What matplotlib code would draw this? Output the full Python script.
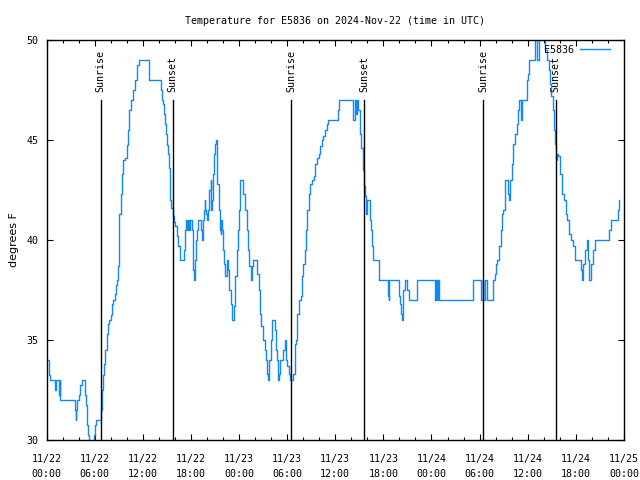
import matplotlib

matplotlib.use("Agg")

import matplotlib.pyplot as plt
from matplotlib.ticker import MultipleLocator

# hours since 2024-11-22 00:00 UTC, temperature in degrees F
hours = [
    0.19, 0.31, 0.35, 0.44, 1.06, 1.10, 1.18, 1.47, 1.56, 1.64, 1.68, 3.47, 3.55, 3.64, 3.72,
    3.80, 4.05, 4.18, 4.39, 4.68, 4.76, 4.88, 5.01, 5.13, 5.26, 5.92, 6.05, 6.17, 6.67, 6.76,
    6.88, 7.00, 7.17, 7.33, 7.50, 7.67, 7.83, 8.00, 8.17, 8.33, 8.50, 8.66, 8.83, 8.91, 9.00,
    9.08, 9.25, 9.41, 9.58, 9.83, 10.00, 10.16, 10.33, 10.50, 10.74, 10.99, 11.24, 11.33, 11.49, 12.74,
    12.82, 14.15, 14.23, 14.40, 14.57, 14.65, 14.82, 14.90, 15.07, 15.15, 15.32, 15.40, 15.56, 15.73, 15.90,
    16.06, 16.23, 16.40, 16.65, 17.14, 17.19, 17.27, 17.39, 17.56, 17.68, 17.81, 17.89, 18.10, 18.22, 18.31,
    18.43, 18.52, 18.64, 18.72, 18.93, 19.14, 19.26, 19.39, 19.47, 19.56, 19.64, 19.72, 19.81, 19.89, 20.05,
    20.18, 20.31, 20.47, 20.56, 20.68, 20.80, 20.93, 21.05, 21.14, 21.22, 21.30, 21.47, 21.63, 21.71, 21.80,
    21.88, 21.97, 22.13, 22.30, 22.46, 22.67, 22.80, 22.96, 23.13, 23.38, 23.50, 23.71, 23.92, 24.04, 24.13,
    24.38, 24.54, 24.75, 24.96, 25.12, 25.29, 25.46, 25.62, 25.79, 26.04, 26.29, 26.45, 26.62, 26.79, 26.95,
    27.20, 27.37, 27.54, 27.66, 27.79, 27.95, 28.12, 28.37, 28.45, 28.62, 28.70, 28.87, 28.95, 29.12, 29.37,
    29.53, 29.70, 29.87, 30.03, 30.20, 30.37, 30.61, 30.78, 30.95, 31.03, 31.12, 31.28, 31.45, 31.70, 31.86,
    32.03, 32.20, 32.36, 32.53, 32.70, 32.86, 33.11, 33.36, 33.53, 33.69, 33.94, 34.11, 34.36, 34.53, 34.78,
    34.94, 35.11, 36.27, 36.39, 36.51, 38.05, 38.17, 38.43, 38.51, 38.63, 38.76, 38.88, 39.09, 39.26, 39.42,
    39.55, 39.71, 39.79, 39.92, 40.17, 40.34, 40.46, 40.59, 40.75, 41.25, 41.50, 42.50, 42.58, 42.66, 42.75,
    43.75, 43.91, 44.08, 44.16, 44.33, 44.41, 44.50, 44.66, 44.91, 45.16, 46.07, 46.24, 48.24, 48.41, 48.57,
    48.74, 48.82, 48.99, 53.01, 53.13, 53.97, 54.13, 54.38, 54.47, 54.72, 54.88, 55.51, 55.63, 55.71, 55.88,
    56.05, 56.21, 56.38, 56.63, 56.80, 56.96, 57.13, 57.38, 57.54, 57.71, 57.79, 58.04, 58.21, 58.46, 58.62,
    58.79, 58.96, 59.12, 59.29, 59.71, 59.87, 60.04, 60.21, 60.79, 60.87, 60.95, 61.12, 61.29, 61.45, 61.70,
    62.03, 62.20, 62.45, 62.61, 62.78, 62.95, 63.11, 63.28, 63.40, 63.53, 63.61, 63.77, 64.02, 64.27, 64.52,
    64.77, 64.94, 65.19, 65.44, 65.69, 65.86, 66.52, 66.60, 66.73, 66.94, 67.10, 67.35, 67.52, 67.69, 67.94,
    68.10, 68.35, 70.02, 70.18, 70.43, 71.10, 71.26, 71.43,
]
temps = [
    34.0, 33.75, 33.25, 33.0, 33.0, 32.5, 33.0, 33.0, 32.25, 33.0, 32.0, 32.0, 31.5, 31.0, 31.5,
    32.0, 32.25, 32.75, 33.0, 33.0, 32.25, 31.75, 30.75, 30.25, 29.5, 30.25, 30.75, 31.0, 31.0, 31.5,
    32.5, 33.25, 33.8, 34.5, 35.3, 35.8, 36.0, 36.25, 36.8, 37.0, 37.3, 37.75, 38.0, 38.7, 40.0,
    41.3, 42.3, 43.3, 44.0, 44.1, 44.75, 45.5, 46.5, 47.0, 47.5, 48.0, 48.3, 48.75, 49.0, 49.0,
    48.0, 48.0, 47.5, 47.0, 46.8, 46.3, 45.8, 45.3, 44.75, 44.3, 43.6, 42.0, 41.6, 41.2, 40.9,
    40.7, 40.2, 39.7, 39.0, 39.0, 39.5, 40.5, 41.0, 40.5, 41.0, 40.5, 41.0, 40.5, 39.7, 38.5,
    38.0, 39.0, 40.0, 40.5, 41.0, 41.0, 40.5, 40.0, 40.5, 41.0, 41.5, 42.0, 41.5, 41.3, 41.0,
    41.5, 42.5, 43.0, 41.5, 42.0, 43.3, 44.3, 44.8, 45.0, 44.3, 42.8, 41.5, 40.5, 40.3, 41.0,
    40.5, 39.5, 38.8, 38.2, 39.0, 38.5, 37.5, 36.8, 36.0, 36.7, 38.2, 39.5, 40.5, 41.5, 43.0,
    43.0, 42.3, 41.5, 40.5, 39.5, 38.7, 38.0, 38.7, 39.0, 39.0, 38.3, 37.5, 36.3, 35.7, 35.0,
    34.5, 34.0, 33.3, 33.0, 34.0, 35.0, 36.0, 36.0, 35.5, 34.5, 34.0, 33.0, 33.3, 34.0, 34.0,
    34.5, 35.0, 34.0, 33.7, 33.3, 33.0, 33.0, 33.3, 34.0, 34.8, 35.0, 36.3, 37.0, 37.2, 38.2,
    38.8, 39.5, 40.5, 41.5, 42.3, 42.8, 43.0, 43.2, 43.8, 44.1, 44.3, 44.7, 45.0, 45.2, 45.5,
    45.8, 46.0, 46.0, 46.5, 47.0, 47.0, 46.0, 46.0, 47.0, 46.3, 47.0, 46.5, 45.3, 44.6, 43.5,
    42.7, 42.2, 41.3, 42.0, 42.0, 41.0, 40.5, 39.7, 39.0, 39.0, 38.0, 38.0, 37.2, 37.0, 38.0,
    38.0, 37.2, 36.8, 36.3, 36.0, 37.0, 37.5, 38.0, 37.5, 37.0, 37.0, 38.0, 38.0, 37.0, 38.0,
    37.0, 38.0, 37.0, 37.0, 38.0, 38.0, 37.0, 38.0, 37.0, 38.0, 37.0, 37.0, 37.8, 38.0, 38.3,
    38.8, 39.0, 39.7, 40.5, 41.3, 41.5, 43.0, 43.0, 42.3, 42.0, 43.0, 43.8, 44.8, 45.3, 45.8,
    46.5, 47.0, 46.0, 47.0, 47.0, 48.0, 48.3, 49.0, 49.0, 50.0, 50.5, 49.0, 49.0, 50.0, 50.5,
    50.5, 49.5, 49.0, 48.5, 47.8, 47.2, 46.5, 45.5, 44.8, 44.0, 44.3, 44.2, 43.3, 42.3, 42.0,
    41.3, 41.0, 40.3, 40.0, 39.7, 39.0, 39.0, 38.5, 38.0, 38.8, 39.5, 40.0, 39.0, 38.0, 38.8,
    39.5, 40.0, 40.0, 40.5, 41.0, 41.0, 41.5, 42.0,
]

sunrise_hours = [6.76, 30.52, 54.46]
sunset_hours = [15.74, 39.63, 63.49]
sun_line_top = 47.0

tick_hours = list(range(0, 73, 6))
tick_labels = [
    "11/22\n00:00", "11/22\n06:00", "11/22\n12:00", "11/22\n18:00",
    "11/23\n00:00", "11/23\n06:00", "11/23\n12:00", "11/23\n18:00",
    "11/24\n00:00", "11/24\n06:00", "11/24\n12:00", "11/24\n18:00",
    "11/25\n00:00",
]

plt.rcParams["font.family"] = "DejaVu Sans Mono"
plt.rcParams["font.size"] = 7.2

fig = plt.figure(figsize=(6.4, 4.8), dpi=100)
ax = fig.add_axes([46.5 / 640, 1 - 440 / 480, (624 - 46.5) / 640, 400 / 480])

ax.plot(hours, temps, drawstyle="steps-post", color="#0f87ff", linewidth=1.0, label="E5836")

for h in sunrise_hours:
    ax.plot([h, h], [30, sun_line_top], color="black", linewidth=1.0)
    ax.text(h, 47.4, "Sunrise", rotation=90, ha="center", va="bottom")
for h in sunset_hours:
    ax.plot([h, h], [30, sun_line_top], color="black", linewidth=1.0)
    ax.text(h, 47.4, "Sunset", rotation=90, ha="center", va="bottom")

ax.set_xlim(0, 72)
ax.set_ylim(30, 50)
ax.set_xticks(tick_hours)
ax.set_xticklabels(tick_labels, linespacing=1.6)
ax.xaxis.set_minor_locator(MultipleLocator(2))
ax.set_yticks([30, 35, 40, 45, 50])
ax.tick_params(which="both", direction="in", top=True, right=True, width=0.8)
ax.tick_params(which="major", length=4)
ax.tick_params(which="minor", length=2.5)
ax.tick_params(axis="x", which="major", pad=10)
ax.tick_params(axis="y", which="major", pad=6)
for side in ax.spines.values():
    side.set_linewidth(1.0)

ax.set_title("Temperature for E5836 on 2024-Nov-22 (time in UTC)", pad=11.5, fontsize=7.2)
ax.set_ylabel("degrees F", labelpad=5.5, family="DejaVu Sans", fontsize=8.0)
ax.legend(loc="upper right", bbox_to_anchor=(0.9758, 0.9875), frameon=False, markerfirst=False,
          handlelength=3.0, borderaxespad=0.0, borderpad=0.0, handletextpad=0.6)

fig.savefig("out.png", dpi=100)
